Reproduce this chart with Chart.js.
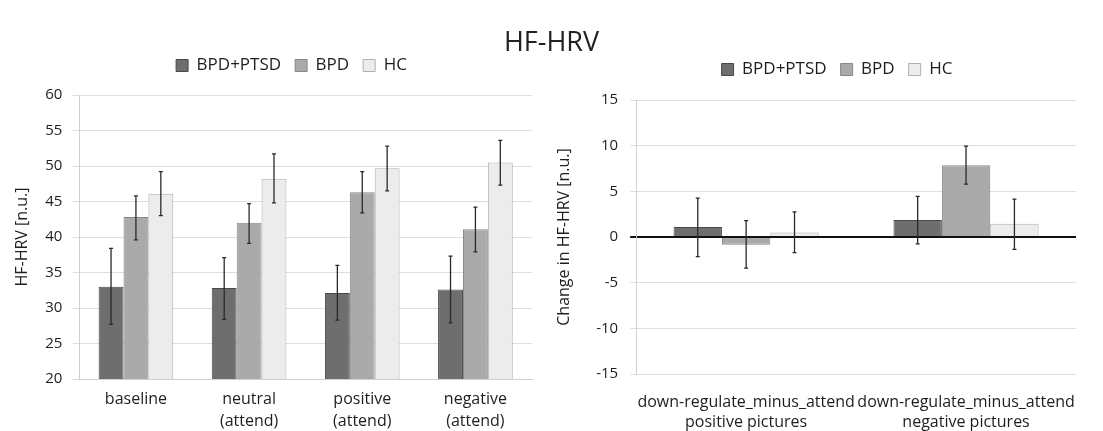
<!DOCTYPE html>
<html>
<head>
<meta charset="utf-8">
<script src="https://cdn.jsdelivr.net/npm/chart.js@4"></script>
<style>
  body { margin: 0; width: 1103px; height: 431px; background: #fff; position: relative; overflow: hidden; font-family: "Open Sans", sans-serif; }
  #title { position: absolute; left: 0; top: 22px; width: 1103px; text-align: center; font-size: 27px; color: #222; }
  .box { position: absolute; }
</style>
</head>
<body>
<div class="box" style="left:0; top:0; width:545px; height:443px;"><canvas id="leftChart"></canvas></div>
<div class="box" style="left:530px; top:0; width:573px; height:452px;"><canvas id="rightChart"></canvas></div>
<div id="title">HF-HRV</div>
<script>
// groups
const groupNames = ["BPD+PTSD", "BPD", "HC"];
const groupColors = ["#6e6e6e", "#aaaaaa", "#ececec"];
const groupBorders = ["#484848", "#888888", "#b0b0b0"];

// left panel: absolute HF-HRV per condition
const leftLabels = ["baseline", ["neutral", "(attend)"], ["positive", "(attend)"], ["negative", "(attend)"]];
const leftTicks = [20, 25, 30, 35, 40, 45, 50, 55, 60];
const leftBpdPtsd = [33.0, 32.8, 32.1, 32.6];
const leftBpd = [42.8, 42.0, 46.3, 41.1];
const leftHc = [46.1, 48.2, 49.7, 50.5];
const leftBpdPtsdErr = [[27.7, 38.4], [28.4, 37.1], [28.3, 36.0], [27.9, 37.3]];
const leftBpdErr = [[39.6, 45.8], [39.1, 44.7], [43.4, 49.2], [37.9, 44.2]];
const leftHcErr = [[43.0, 49.2], [44.8, 51.7], [46.5, 52.8], [47.3, 53.6]];

// right panel: change scores
const rightLabels = [["down-regulate_minus_attend", "positive pictures"], ["down-regulate_minus_attend", "negative pictures"]];
const rightTicks = [-15, -10, -5, 0, 5, 10, 15];
const rightBpdPtsd = [1.1, 1.85];
const rightBpd = [-0.85, 7.85];
const rightHc = [0.5, 1.45];
const rightBpdPtsdErr = [[-2.15, 4.25], [-0.75, 4.45]];
const rightBpdErr = [[-3.4, 1.8], [5.8, 9.95]];
const rightHcErr = [[-1.7, 2.75], [-1.35, 4.15]];

const fontFamily = "'Open Sans', sans-serif";

// draws error bars through the y scale
const errorBars = {
  id: "errorBars",
  afterDatasetsDraw(chart) {
    const ctx = chart.ctx;
    const y = chart.scales.y;
    chart.data.datasets.forEach((ds, i) => {
      const meta = chart.getDatasetMeta(i);
      meta.data.forEach((bar, j) => {
        const [lo, hi] = ds.errors[j];
        const yLo = y.getPixelForValue(lo);
        const yHi = y.getPixelForValue(hi);
        ctx.save();
        ctx.strokeStyle = "#2a2a2a";
        ctx.lineWidth = 1.3;
        ctx.beginPath();
        ctx.moveTo(bar.x, yLo); ctx.lineTo(bar.x, yHi);
        ctx.moveTo(bar.x - 2, yLo); ctx.lineTo(bar.x + 2, yLo);
        ctx.moveTo(bar.x - 2, yHi); ctx.lineTo(bar.x + 2, yHi);
        ctx.stroke();
        ctx.restore();
      });
    });
  }
};

// legend tweaks: extra gap under it, and a sideways nudge (original legends sit right of centre)
const legendTweak = {
  id: "legendTweak",
  beforeInit(chart, args, opts) {
    const lg = chart.legend;
    if (!lg) return;
    const fit = lg.fit;
    lg.fit = function () {
      fit.call(this);
      this.height += opts.extra;
    };
  },
  afterLayout(chart, args, opts) {
    const lg = chart.legend;
    if (!lg) return;
    lg.left += opts.dx;
    lg.right += opts.dx;
  }
};

function makeDatasets(values, errs) {
  return values.map((v, i) => ({
    label: groupNames[i],
    data: v,
    errors: errs[i],
    backgroundColor: groupColors[i],
    borderColor: groupBorders[i],
    borderWidth: 1,
    barPercentage: 1.0,
    categoryPercentage: 0.66
  }));
}

function makeOptions(cfg) {
  const zero = cfg.zeroLine;
  return {
    responsive: true,
    maintainAspectRatio: false,
    animation: false,
    layout: { padding: cfg.padding },
    plugins: {
      legend: {
        position: "top",
        labels: {
          boxWidth: 12, boxHeight: 12, padding: 14,
          color: "#1e1e1e",
          font: { family: fontFamily, size: 17 }
        }
      },
      legendTweak: { dx: cfg.legendDx, extra: cfg.legendExtra },
      tooltip: { enabled: false }
    },
    scales: {
      x: {
        grid: { display: false, drawTicks: false },
        border: { display: !zero, color: "#cfcfcf" },
        ticks: {
          color: "#1e1e1e",
          font: { family: fontFamily, size: 16, lineHeight: cfg.xLineHeight },
          maxRotation: 0, autoSkip: false, padding: cfg.xPad
        }
      },
      y: {
        min: cfg.ticks[0],
        max: cfg.ticks[cfg.ticks.length - 1],
        afterBuildTicks: (axis) => { axis.ticks = cfg.ticks.map(v => ({ value: v })); },
        grid: {
          color: (c) => (zero && c.tick && c.tick.value === 0) ? "#111" : "#dedede",
          lineWidth: (c) => (zero && c.tick && c.tick.value === 0) ? 2 : 1,
          tickLength: cfg.tickLen
        },
        border: { color: "#cfcfcf" },
        ticks: { color: "#1e1e1e", font: { family: fontFamily, size: 15 }, padding: cfg.yPad },
        title: { display: true, text: cfg.yTitle, color: "#1e1e1e", font: { family: fontFamily, size: 16 }, padding: cfg.titlePad }
      }
    }
  };
}

new Chart(document.getElementById("leftChart"), {
  type: "bar",
  data: {
    labels: leftLabels,
    datasets: makeDatasets([leftBpdPtsd, leftBpd, leftHc], [leftBpdPtsdErr, leftBpdErr, leftHcErr])
  },
  options: makeOptions({
    ticks: leftTicks, yTitle: "HF-HRV [n.u.]", zeroLine: false,
    padding: { left: 1, right: 13, top: 43, bottom: 2 },
    legendDx: 25, legendExtra: 11, xLineHeight: 1.375, xPad: 9, tickLen: 7, yPad: 10,
    titlePad: { top: 12, bottom: 3 }
  }),
  plugins: [errorBars, legendTweak]
});

new Chart(document.getElementById("rightChart"), {
  type: "bar",
  data: {
    labels: rightLabels,
    datasets: makeDatasets([rightBpdPtsd, rightBpd, rightHc], [rightBpdPtsdErr, rightBpdErr, rightHcErr])
  },
  options: makeOptions({
    ticks: rightTicks, yTitle: "Change in HF-HRV [n.u.]", zeroLine: true,
    padding: { left: 6, right: 27, top: 47, bottom: 2 },
    legendDx: 31, legendExtra: 12, xLineHeight: 1.25, xPad: 18, tickLen: 6, yPad: 12,
    titlePad: { top: 19, bottom: 10 }
  }),
  plugins: [errorBars, legendTweak]
});
</script>
</body>
</html>
